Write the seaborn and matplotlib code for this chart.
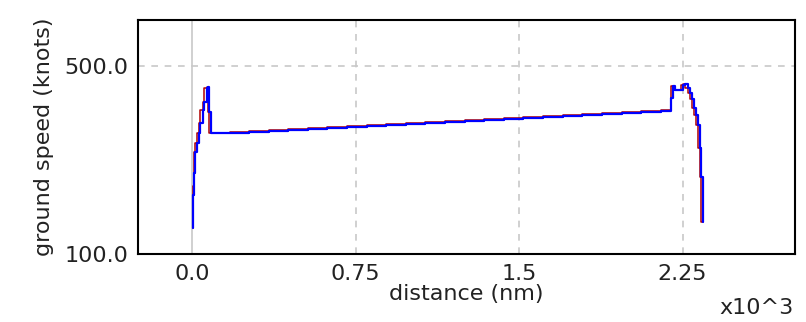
import numpy as np
import pandas as pd
import matplotlib
matplotlib.use("Agg")
import matplotlib.pyplot as plt
import seaborn as sns
from matplotlib.ticker import MultipleLocator, FixedLocator, FuncFormatter

# ground speed profile (distance in nm, speed in knots)
distance = [3, 3, 6, 6, 14, 21, 29, 37, 47, 56, 67, 70, 78, 86,
            174, 260, 350, 440, 530, 620, 710, 800, 890, 980, 1070, 1160,
            1250, 1340, 1430, 1520, 1610, 1700, 1790, 1880, 1970, 2060, 2150,
            2198, 2198, 2206, 2214, 2244, 2252, 2263, 2275, 2286, 2295, 2302,
            2310, 2320, 2328, 2336, 2343]
speed = [155, 225, 245, 272, 318, 336, 357, 379, 406, 424, 453, 455, 403, 357,
         357, 360, 362, 364, 366, 368, 371, 373, 375, 377, 379, 381,
         383, 385, 387, 389, 391, 393, 395, 398, 400, 402, 404,
         406, 433, 457, 449, 449, 460, 462, 453, 442, 429, 410, 396,
         374, 325, 264, 169]

x_labels = [0, 750, 1500, 2250]
y_labels = [100, 500]

df = pd.DataFrame({"distance": distance, "speed": speed})

sns.set_style("white")
plt.rcParams['font.family'] = ['DejaVu Sans']

fig = plt.figure(figsize=(8.06, 3.22), dpi=100)
ax = fig.add_axes([0.171, 0.211, 0.815, 0.727])

# light reference lines
ax.axvline(0, color="#c8c8c8", lw=1.2, zorder=0)
for xv in x_labels[1:]:
    ax.axvline(xv, color="#c8c8c8", lw=1.2, ls=(0, (4, 4)), zorder=0)
ax.axhline(500, color="#c8c8c8", lw=1.2, ls=(0, (4, 4)), zorder=0)

sns.lineplot(data=df, x="distance", y="speed", ax=ax, sort=False,
             estimator=None, color="#b00000", lw=1.1, drawstyle="steps-pre")
sns.lineplot(data=df, x="distance", y="speed", ax=ax, sort=False,
             estimator=None, color="#0000ff", lw=1.6, drawstyle="steps-post")

ax.set_xlim(-250, 2765)
ax.set_ylim(100, 598)

ax.xaxis.set_major_locator(FixedLocator(x_labels))
ax.xaxis.set_minor_locator(MultipleLocator(250))
ax.yaxis.set_major_locator(FixedLocator(y_labels))
ax.yaxis.set_minor_locator(MultipleLocator(100))
ax.xaxis.set_major_formatter(FuncFormatter(lambda v, p: f"{v/1000:g}" if v % 1000 else f"{v/1000:.1f}"))
ax.yaxis.set_major_formatter(FuncFormatter(lambda v, p: f"{v:.1f}"))

ax.tick_params(which="both", direction="in", length=9, width=1.2, color="black",
               labelsize=16, labelcolor="#222222", pad=7)
for s in ax.spines.values():
    s.set_color("black")
    s.set_linewidth(1.5)

ax.set_xlabel("distance (nm)", fontsize=16, color="#222222", labelpad=0)
ax.set_ylabel("ground speed (knots)", fontsize=16, color="#222222", labelpad=7)
fig.text(0.985, 0.012, "x10^3", ha="right", va="bottom", fontsize=16, color="#222222")

fig.savefig("out.png", dpi=100)
